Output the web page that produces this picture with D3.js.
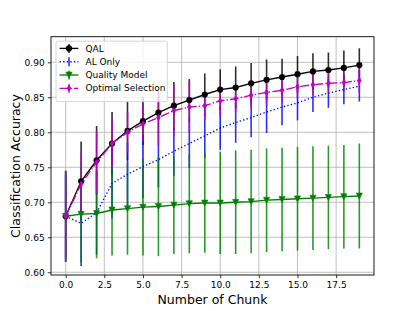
<!DOCTYPE html>
<html>
<head>
<meta charset="utf-8">
<script src="https://cdn.jsdelivr.net/npm/d3@7"></script>
<style>
  body { margin: 0; background: #fff; }
  svg { display: block; font-family: "DejaVu Sans", sans-serif; }
</style>
</head>
<body>
<div id="chart"></div>
<script>
// --------------------------------------
//  Data
// --------------------------------------

const chunks = [0, 1, 2, 3, 4, 5, 6, 7, 8, 9, 10, 11, 12, 13, 14, 15, 16, 17, 18, 19];

const qalMean = [0.680, 0.730, 0.760, 0.784, 0.802, 0.816, 0.828, 0.838, 0.846, 0.854,
                 0.861, 0.864, 0.870, 0.875, 0.879, 0.883, 0.887, 0.889, 0.892, 0.896];
const qalErr  = [0.065, 0.057, 0.049, 0.045, 0.042, 0.034, 0.028, 0.034, 0.030, 0.030,
                 0.029, 0.030, 0.029, 0.029, 0.026, 0.026, 0.026, 0.025, 0.025, 0.024];

const alMean  = [0.680, 0.670, 0.685, 0.727, 0.740, 0.751, 0.761, 0.773, 0.784, 0.795,
                 0.806, 0.814, 0.821, 0.829, 0.836, 0.842, 0.850, 0.856, 0.861, 0.866];
const alErr   = [0.060, 0.061, 0.060, 0.050, 0.045, 0.045, 0.040, 0.035, 0.035, 0.032,
                 0.031, 0.029, 0.028, 0.030, 0.026, 0.025, 0.021, 0.021, 0.021, 0.022];

const qmMean  = [0.680, 0.683, 0.684, 0.689, 0.691, 0.693, 0.694, 0.696, 0.698, 0.699,
                 0.699, 0.700, 0.701, 0.703, 0.704, 0.705, 0.706, 0.707, 0.708, 0.709];
const qmErr   = [0.065, 0.069, 0.064, 0.065, 0.066, 0.069, 0.071, 0.070, 0.071, 0.071,
                 0.073, 0.074, 0.074, 0.074, 0.074, 0.074, 0.074, 0.074, 0.074, 0.075];

const osMean  = [0.680, 0.726, 0.757, 0.784, 0.800, 0.812, 0.821, 0.831, 0.836, 0.838,
                 0.845, 0.848, 0.853, 0.857, 0.860, 0.865, 0.868, 0.870, 0.871, 0.874];
const osErr   = [0.065, 0.045, 0.045, 0.034, 0.029, 0.025, 0.040, 0.037, 0.037, 0.020,
                 0.021, 0.019, 0.019, 0.019, 0.017, 0.017, 0.015, 0.014, 0.013, 0.018];

const seriesNames = ["QAL", "AL Only", "Quality Model", "Optimal Selection"];
const xTicks = [0, 2.5, 5, 7.5, 10, 12.5, 15, 17.5];
const yTicks = [0.60, 0.65, 0.70, 0.75, 0.80, 0.85, 0.90];

// --------------------------------------
//  Canvas
// --------------------------------------

const width = 415;
const height = 311;
const plot = { left: 51, right: 374, top: 36.7, bottom: 275 };

const svg = d3.select("#chart")
  .append("svg")
  .attr("width", width)
  .attr("height", height)
  .attr("viewBox", [0, 0, width, height]);

const x = d3.scaleLinear([-0.95, 19.95], [plot.left, plot.right]);
const y = d3.scaleLinear([0.5961, 0.9366], [plot.bottom, plot.top]);

const lw = 1.35;
const series = [
  { name: seriesNames[0], mean: qalMean, err: qalErr, color: "#000000", dash: null, marker: "o" },
  { name: seriesNames[1], mean: alMean, err: alErr, color: "#0000ff", dash: `${lw},${lw * 1.65}`, marker: null },
  { name: seriesNames[2], mean: qmMean, err: qmErr, color: "#008000", dash: null, marker: "v" },
  { name: seriesNames[3], mean: osMean, err: osErr, color: "#bf00bf",
    dash: `${lw * 6.4},${lw * 1.6},${lw},${lw * 1.6}`, marker: "d" }
];

// marker shapes, centred on 0,0
function markerPath(type) {
  if (type === "v") return "M-3.1,-2.9L3.1,-2.9L0,3.1Z";
  if (type === "d") return "M0,-3.2L2,0L0,3.2L-2,0Z";
  return null;
}

// --------------------------------------
//  Grid
// --------------------------------------

const grid = svg.append("g").attr("stroke", "#b0b0b0").attr("stroke-width", 0.8);
grid.selectAll("line.gx")
  .data(xTicks)
  .join("line")
  .attr("class", "gx")
  .attr("x1", d => x(d)).attr("x2", d => x(d))
  .attr("y1", plot.top).attr("y2", plot.bottom);
grid.selectAll("line.gy")
  .data(yTicks)
  .join("line")
  .attr("class", "gy")
  .attr("x1", plot.left).attr("x2", plot.right)
  .attr("y1", d => y(d)).attr("y2", d => y(d));

// --------------------------------------
//  Error bars (drawn below every line)
// --------------------------------------

series.forEach(s => {
  svg.append("g")
    .selectAll("line")
    .data(chunks)
    .join("line")
    .attr("x1", i => x(i)).attr("x2", i => x(i))
    .attr("y1", i => y(s.mean[i] - s.err[i]))
    .attr("y2", i => y(s.mean[i] + s.err[i]))
    .attr("stroke", s.color)
    .attr("stroke-opacity", 0.82)
    .attr("stroke-width", 1.6);
});

// --------------------------------------
//  Lines and markers
// --------------------------------------

const line = d3.line().x(i => x(i));

series.forEach(s => {
  svg.append("path")
    .datum(chunks)
    .attr("d", line.y(i => y(s.mean[i])))
    .attr("fill", "none")
    .attr("stroke", s.color)
    .attr("stroke-width", lw)
    .attr("stroke-dasharray", s.dash);

  if (s.marker === "o") {
    svg.append("g").selectAll("circle")
      .data(chunks)
      .join("circle")
      .attr("cx", i => x(i))
      .attr("cy", i => y(s.mean[i]))
      .attr("r", 3.1)
      .attr("fill", s.color);
  } else if (s.marker) {
    svg.append("g").selectAll("path")
      .data(chunks)
      .join("path")
      .attr("transform", i => `translate(${x(i)},${y(s.mean[i])})`)
      .attr("d", markerPath(s.marker))
      .attr("fill", s.color)
      .attr("stroke", s.color)
      .attr("stroke-width", 0.6);
  }
});

// --------------------------------------
//  Axes
// --------------------------------------

svg.append("g")
  .attr("transform", `translate(0,${plot.bottom})`)
  .call(d3.axisBottom(x).tickValues(xTicks).tickFormat(d3.format(".1f")).tickSize(3.2).tickPadding(3.6))
  .call(g => g.select(".domain").remove())
  .call(g => g.selectAll("text").attr("font-size", 9).attr("fill", "#000").attr("font-family", "DejaVu Sans"))
  .call(g => g.selectAll("line").attr("stroke", "#000").attr("stroke-width", 0.8));

svg.append("g")
  .attr("transform", `translate(${plot.left},0)`)
  .call(d3.axisLeft(y).tickValues(yTicks).tickFormat(d3.format(".2f")).tickSize(3.2).tickPadding(3.2))
  .call(g => g.select(".domain").remove())
  .call(g => g.selectAll("text").attr("font-size", 9).attr("fill", "#000").attr("font-family", "DejaVu Sans"))
  .call(g => g.selectAll("line").attr("stroke", "#000").attr("stroke-width", 0.8));

svg.append("rect")
  .attr("x", plot.left).attr("y", plot.top)
  .attr("width", plot.right - plot.left)
  .attr("height", plot.bottom - plot.top)
  .attr("fill", "none")
  .attr("stroke", "#000")
  .attr("stroke-width", 0.9);

svg.append("text")
  .attr("x", (plot.left + plot.right) / 2)
  .attr("y", 304)
  .attr("text-anchor", "middle")
  .attr("font-size", 12.5)
  .text("Number of Chunk");

svg.append("text")
  .attr("transform", "translate(19.5,166) rotate(-90)")
  .attr("text-anchor", "middle")
  .attr("font-size", 12.5)
  .text("Classification Accuracy");

// --------------------------------------
//  Legend
// --------------------------------------

const legend = svg.append("g").attr("transform", "translate(56,41.2)");

legend.append("rect")
  .attr("width", 111.3)
  .attr("height", 60.5)
  .attr("rx", 2)
  .attr("fill", "#fff")
  .attr("fill-opacity", 0.8)
  .attr("stroke", "#cccccc")
  .attr("stroke-width", 0.8);

const item = legend.selectAll("g.item")
  .data(series)
  .join("g")
  .attr("class", "item")
  .attr("transform", (d, i) => `translate(0,${7.2 + i * 13.3})`);

item.append("line")
  .attr("x1", 3.6).attr("x2", 22.3)
  .attr("stroke", d => d.color)
  .attr("stroke-width", lw)
  .attr("stroke-dasharray", d => d.dash);

item.append("line")
  .attr("x1", 13).attr("x2", 13)
  .attr("y1", -4.5).attr("y2", 4.5)
  .attr("stroke", d => d.color)
  .attr("stroke-opacity", 0.82)
  .attr("stroke-width", 1.6);

item.filter(d => d.marker === "o")
  .append("circle")
  .attr("cx", 13).attr("r", 3.1)
  .attr("fill", d => d.color);

item.filter(d => d.marker && d.marker !== "o")
  .append("path")
  .attr("transform", "translate(13,0)")
  .attr("d", d => markerPath(d.marker))
  .attr("fill", d => d.color)
  .attr("stroke", d => d.color)
  .attr("stroke-width", 0.6);

item.append("text")
  .attr("x", 29.5)
  .attr("dy", "0.35em")
  .attr("font-size", 9)
  .text(d => d.name);
</script>
</body>
</html>
